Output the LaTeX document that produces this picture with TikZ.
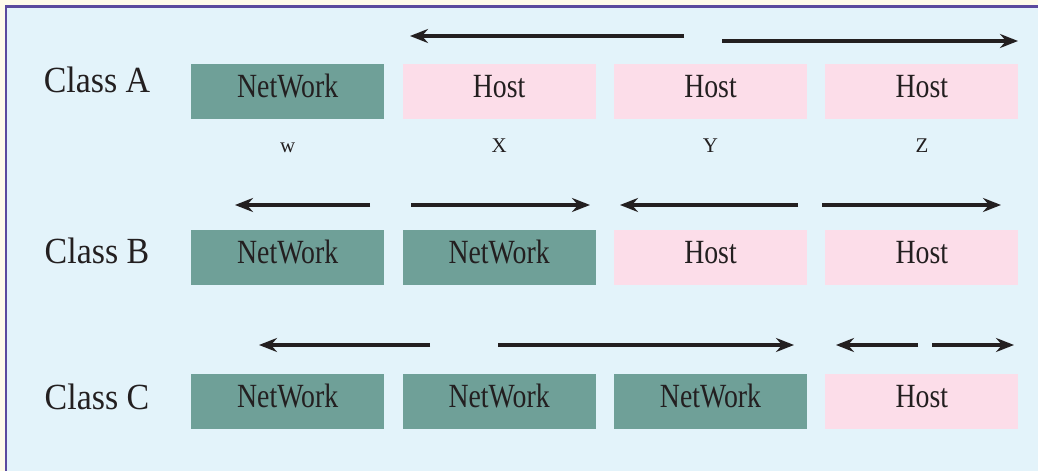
\documentclass[tikz,border=0pt]{standalone}
\usepackage{fontspec}
\setmainfont{Liberation Serif}
\newfontfamily\boxfont{Liberation Serif}[FakeStretch=0.82]
\newfontfamily\classfont{Liberation Serif}[FakeStretch=0.92]
\usepackage{tikz}
\usetikzlibrary{positioning, arrows.meta}
\usepackage{xcolor}
\definecolor{netcol}{HTML}{6FA098}
\definecolor{hostcol}{HTML}{FCDDE9}
\definecolor{panelcol}{HTML}{E3F3FA}
\definecolor{framecol}{HTML}{5B4A9E}
\definecolor{papercol}{HTML}{FFFBEA}
\definecolor{inkcol}{HTML}{231F20}

\begin{document}
\begin{tikzpicture}[
        x = 1bp, y = -1bp,
        node distance = 18bp,
        field/.style = {minimum width=193bp, minimum height=55bp, inner sep=0pt, text height=22.5bp, text depth=11.5bp, font=\boxfont\fontsize{34}{40}\selectfont, text=inkcol},
        net/.style  = {field, fill=netcol},
        host/.style = {field, fill=hostcol},
        cls/.style  = {anchor=base, inner sep=0pt, font=\classfont\fontsize{37}{44}\selectfont, text=inkcol},
        idx/.style  = {anchor=base, inner sep=0pt, font=\fontsize{21}{24}\selectfont, text=inkcol},
        arrow/.style = {-{Stealth[length=18bp, width=14bp, inset=6bp]}, line width=3.2bp, draw=inkcol},
    ]
        \useasboundingbox (0,0) rectangle (1038,471);
        \fill[papercol] (0,0) rectangle (1038,471);
        \fill[panelcol] (6,6.5) rectangle (1038,471);
        \draw[framecol, line width=2.2bp] (6,471) -- (6,6.5) -- (1038,6.5);

        % class A
        \node[cls] (ca) at (97,93) {Class A};
        \node[net, anchor=north west] (a1) at (191,64) {NetWork};
        \node[host, right=of a1] (a2) {Host};
        \node[host, right=of a2] (a3) {Host};
        \node[host, right=of a3] (a4) {Host};
        \node[idx] (w) at ([yshift=-33bp]a1.south) {w};
        \node[idx] (x) at ([yshift=-33bp]a2.south) {X};
        \node[idx] (y) at ([yshift=-33bp]a3.south) {Y};
        \node[idx] (z) at ([yshift=-33bp]a4.south) {Z};

        % class B
        \node[cls] (cb) at (97,264) {Class B};
        \node[net, anchor=north west] (b1) at (191,230) {NetWork};
        \node[net, right=of b1] (b2) {NetWork};
        \node[host, right=of b2] (b3) {Host};
        \node[host, right=of b3] (b4) {Host};

        % class C
        \node[cls] (cc) at (97,410) {Class C};
        \node[net, anchor=north west] (c1) at (191,374) {NetWork};
        \node[net, right=of c1] (c2) {NetWork};
        \node[net, right=of c2] (c3) {NetWork};
        \node[host, right=of c3] (c4) {Host};

        % arrow ends
        \coordinate (aL1) at (684,36);  \coordinate (aL2) at (410,36);
        \coordinate (aR1) at (722,41);  \coordinate (aR2) at (1018,41);
        \coordinate (bN1) at (370,205); \coordinate (bN2) at (235,205);
        \coordinate (bN3) at (411,205); \coordinate (bN4) at (590,205);
        \coordinate (bH1) at (798,205); \coordinate (bH2) at (620,205);
        \coordinate (bH3) at (822,205); \coordinate (bH4) at (1001,205);
        \coordinate (cN1) at (430,345); \coordinate (cN2) at (259,345);
        \coordinate (cN3) at (498,345); \coordinate (cN4) at (794,345);
        \coordinate (cH1) at (918,345); \coordinate (cH2) at (836,345);
        \coordinate (cH3) at (932,345); \coordinate (cH4) at (1014,345);

        \draw[arrow] (aL1) -- (aL2);
        \draw[arrow] (aR1) -- (aR2);
        \draw[arrow] (bN1) -- (bN2);
        \draw[arrow] (bN3) -- (bN4);
        \draw[arrow] (bH1) -- (bH2);
        \draw[arrow] (bH3) -- (bH4);
        \draw[arrow] (cN1) -- (cN2);
        \draw[arrow] (cN3) -- (cN4);
        \draw[arrow] (cH1) -- (cH2);
        \draw[arrow] (cH3) -- (cH4);
    \end{tikzpicture}
\end{document}
